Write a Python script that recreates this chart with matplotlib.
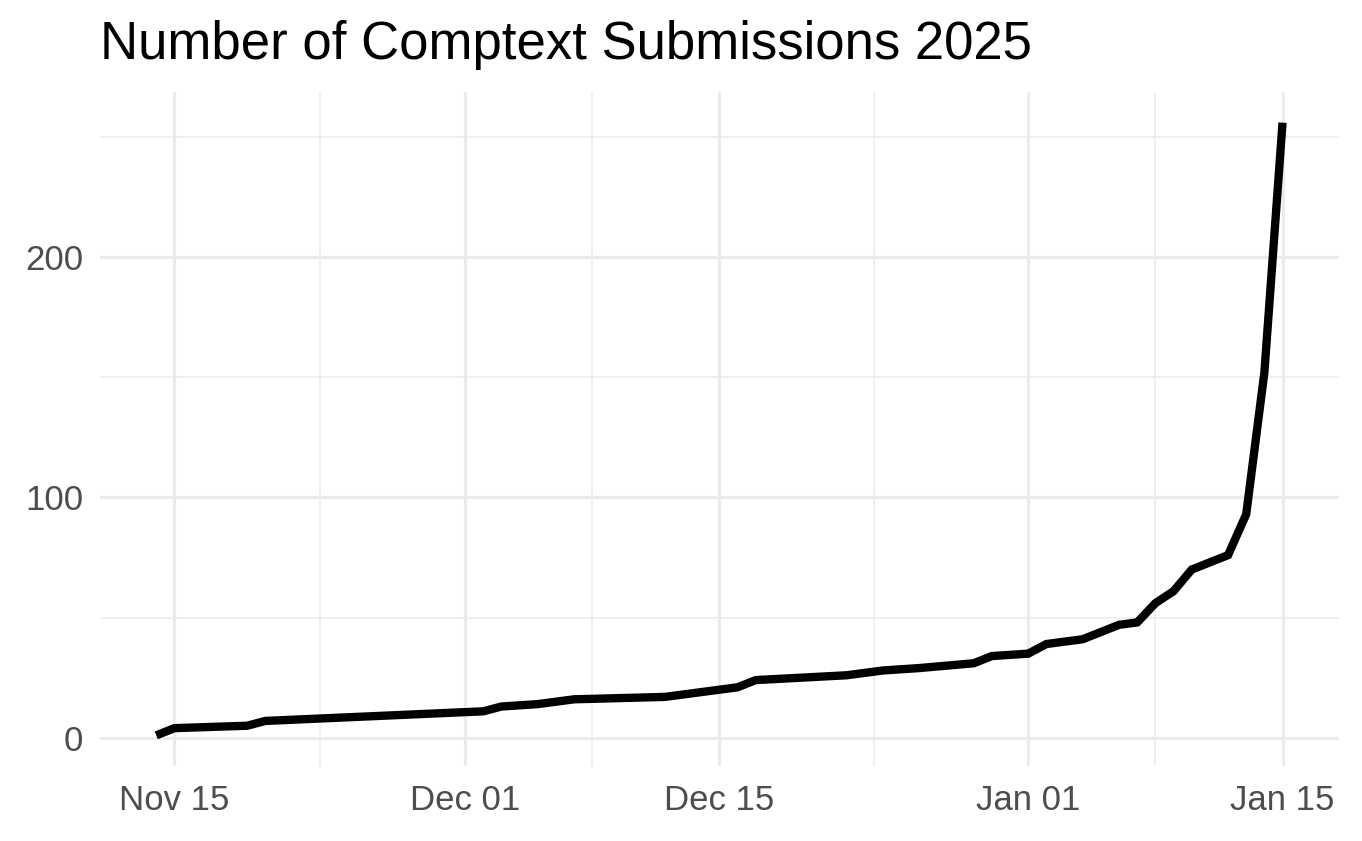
import pandas as pd
import matplotlib
matplotlib.use("Agg")
import matplotlib.pyplot as plt
import matplotlib.dates as mdates

plt.rcParams['font.family'] = ['Liberation Sans', 'DejaVu Sans']

# cumulative submissions
dates = [
    "2024-11-14", "2024-11-15", "2024-11-19", "2024-11-20", "2024-12-02",
    "2024-12-03", "2024-12-05", "2024-12-07", "2024-12-12", "2024-12-16",
    "2024-12-17", "2024-12-22", "2024-12-24", "2024-12-26", "2024-12-29",
    "2024-12-30", "2025-01-01", "2025-01-02", "2025-01-04", "2025-01-06",
    "2025-01-07", "2025-01-08", "2025-01-09", "2025-01-10", "2025-01-12",
    "2025-01-13", "2025-01-14", "2025-01-15",
]
submissions = [
    1, 4, 5, 7, 11,
    13, 14, 16, 17, 21,
    24, 26, 28, 29, 31,
    34, 35, 39, 41, 47,
    48, 56, 61, 70, 76,
    93, 152, 256,
]
x_ticks = ["2024-11-15", "2024-12-01", "2024-12-15", "2025-01-01", "2025-01-15"]
x_minor = ["2024-11-23 00:00", "2024-12-08 00:00", "2024-12-23 12:00", "2025-01-08 00:00"]
y_ticks = [0, 100, 200]
y_minor = [50, 150, 250]

df = pd.DataFrame({"date": pd.to_datetime(dates), "n": submissions})

fig = plt.figure(figsize=(13.62, 8.41), dpi=100)
ax = fig.add_axes([0.0734, 0.0892, 0.9096, 0.8014])

ax.plot(df["date"], df["n"], color="black", lw=6.0, solid_joinstyle="miter",
        solid_capstyle="butt", zorder=3)

# ggplot-style 5% padding
span = df["date"].max() - df["date"].min()
ax.set_xlim(df["date"].min() - span * 0.05, df["date"].max() + span * 0.05)
yr = df["n"].max() - df["n"].min()
ax.set_ylim(df["n"].min() - yr * 0.05, df["n"].max() + yr * 0.05)

ax.set_xticks(pd.to_datetime(x_ticks))
ax.xaxis.set_major_formatter(mdates.DateFormatter("%b %d"))
ax.set_xticks(pd.to_datetime(x_minor, format="%Y-%m-%d %H:%M"), minor=True)
ax.set_yticks(y_ticks)
ax.set_yticks(y_minor, minor=True)

ax.grid(which="major", color="#EBEBEB", lw=2.2)
ax.grid(which="minor", color="#EBEBEB", lw=1.1)
ax.set_axisbelow(True)
for s in ax.spines.values():
    s.set_visible(False)
ax.tick_params(which="both", length=0, labelsize=25, labelcolor="#4D4D4D")
ax.tick_params(axis="x", pad=13)
ax.tick_params(axis="y", pad=12)

fig.text(0.0734, 0.947, "Number of Comptext Submissions 2025", fontsize=38,
         ha="left", va="center", color="black")

fig.savefig("out.png", dpi=100, facecolor="white")
